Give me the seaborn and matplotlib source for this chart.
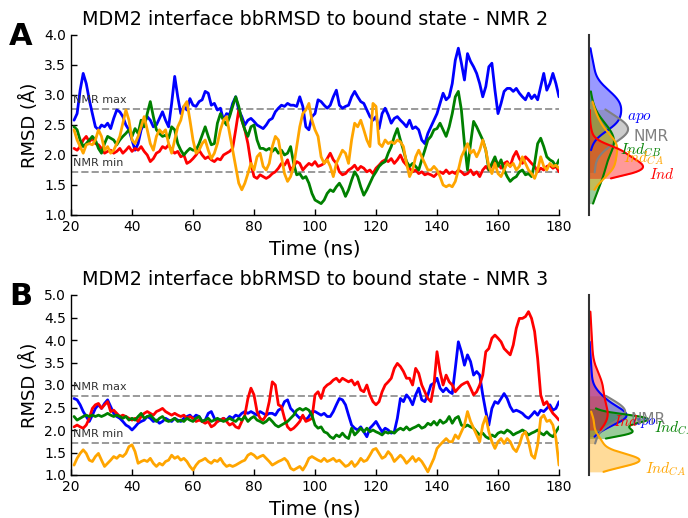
import numpy as np
import matplotlib
matplotlib.use('Agg')
import matplotlib.pyplot as plt
import seaborn as sns

# ---------------- data ----------------
time_ns = list(range(21, 181))

apo_A = [2.58,2.69,3.08,3.36,3.19,2.92,2.69,2.47,2.42,2.5,
         2.47,2.53,2.44,2.61,2.75,2.72,2.64,2.5,2.42,2.25,
         2.08,2.19,2.42,2.53,2.64,2.58,2.47,2.5,2.61,2.72,
         2.58,2.47,2.86,3.31,2.97,2.69,2.81,2.75,2.94,2.83,
         2.81,2.89,2.92,3.06,3.03,2.83,2.86,2.75,2.78,2.58,
         2.69,2.67,2.86,2.97,2.75,2.64,2.5,2.58,2.61,2.56,
         2.5,2.47,2.44,2.5,2.58,2.61,2.72,2.78,2.83,2.81,
         2.86,2.83,2.83,2.81,2.97,2.81,2.47,2.42,2.64,2.69,
         2.92,2.89,2.83,2.78,2.83,2.97,3.08,2.83,2.78,2.81,
         2.83,2.97,3.06,2.97,2.89,2.86,2.75,2.64,2.58,2.64,
         2.44,2.69,2.78,2.67,2.53,2.61,2.64,2.58,2.53,2.47,
         2.58,2.44,2.47,2.42,2.25,2.19,2.36,2.47,2.58,2.69,
         2.86,3.03,2.92,2.97,3.19,3.58,3.78,3.53,3.25,3.69,
         3.56,3.47,3.36,3.19,2.97,3.14,3.47,3.53,3.08,2.69,
         2.86,3.06,3.11,3.11,3.06,3.11,3.03,2.97,2.92,3.03,
         2.94,3.0,2.92,3.14,3.36,3.08,3.19,3.36,3.19,2.97]

ind_A = [2.11,2.08,2.14,2.25,2.31,2.22,2.28,2.19,2.17,2.11,
         2.03,2.06,2.08,2.03,2.06,2.11,2.03,2.08,2.14,2.06,
         2.11,2.08,2.14,2.06,2.0,1.89,1.94,2.03,2.06,2.14,
         2.11,2.17,2.08,2.03,2.06,1.97,2.0,1.86,1.89,1.94,
         2.0,2.08,2.0,1.94,1.97,1.92,1.89,1.94,1.92,2.0,
         2.03,2.06,2.11,2.42,2.75,2.58,2.42,2.19,1.86,1.64,
         1.61,1.67,1.64,1.61,1.64,1.69,1.72,1.78,1.86,1.83,
         1.92,1.75,1.81,1.89,1.86,1.75,1.81,1.86,1.83,1.89,
         1.81,1.83,1.86,1.94,2.03,1.92,1.86,1.72,1.67,1.69,
         1.75,1.78,1.83,1.75,1.81,1.78,1.72,1.75,1.69,1.78,
         1.83,1.89,1.92,1.89,1.94,1.86,1.92,2.0,1.89,1.83,
         1.78,1.72,1.75,1.69,1.72,1.67,1.69,1.67,1.64,1.69,
         1.72,1.69,1.75,1.69,1.72,1.69,1.75,1.72,1.67,1.69,
         1.75,1.67,1.72,1.64,1.75,1.81,1.75,1.83,1.92,1.86,
         1.78,1.86,1.89,1.81,1.97,2.06,1.94,1.86,1.97,1.92,
         1.86,1.81,1.72,1.78,1.75,1.81,1.83,1.78,1.81,1.72]

indcb_A = [2.47,2.42,2.25,2.14,2.19,2.25,2.31,2.25,2.11,2.03,
           2.19,2.31,2.28,2.25,2.17,2.25,2.31,2.36,2.42,2.31,
           2.44,2.36,2.58,2.47,2.69,2.89,2.64,2.42,2.36,2.31,
           2.33,2.28,2.47,2.42,2.19,2.08,2.0,2.06,2.11,2.08,
           2.08,2.19,2.33,2.47,2.31,2.17,2.19,2.53,2.69,2.58,
           2.5,2.64,2.81,2.97,2.81,2.58,2.42,2.31,2.47,2.5,
           2.25,2.11,2.11,2.08,2.11,2.06,2.11,2.03,2.08,2.0,
           2.03,2.14,1.86,1.67,1.69,1.61,1.64,1.53,1.36,1.25,
           1.22,1.19,1.25,1.36,1.42,1.39,1.47,1.53,1.44,1.31,
           1.42,1.58,1.72,1.64,1.47,1.33,1.42,1.53,1.64,1.72,
           1.81,1.86,1.89,2.03,2.14,2.31,2.44,2.25,2.08,1.89,
           1.81,1.86,1.81,1.75,1.92,2.08,2.25,2.31,2.42,2.44,
           2.53,2.42,2.31,2.47,2.69,2.97,3.06,2.75,2.19,1.75,
           2.19,2.56,2.47,2.36,2.25,2.08,1.75,1.86,1.97,1.81,
           1.92,1.75,1.64,1.56,1.61,1.64,1.72,1.75,1.67,1.69,
           1.64,1.86,2.19,2.28,2.14,1.97,1.92,1.89,1.81,1.92]

indca_A = [2.42,2.25,2.14,2.03,2.17,2.19,2.17,2.25,2.42,2.31,
           2.08,2.14,2.03,2.08,2.19,2.31,2.53,2.75,2.58,2.25,
           2.19,2.31,2.47,2.64,2.42,2.19,2.08,2.31,2.42,2.36,
           2.42,2.19,2.03,2.25,2.47,2.58,2.81,2.89,2.58,2.25,
           2.03,2.08,2.19,2.25,2.08,1.94,2.03,2.19,2.42,2.58,
           2.64,2.36,2.08,1.81,1.53,1.42,1.53,1.69,1.86,1.75,
           1.97,2.03,1.81,1.75,1.86,2.14,2.31,2.25,1.97,1.69,
           1.56,1.64,1.81,2.14,2.47,2.69,2.75,2.86,2.58,2.42,
           2.31,1.97,1.86,1.92,1.81,1.64,1.86,1.97,2.08,2.03,
           1.86,2.25,2.53,2.47,2.58,2.42,2.25,2.14,2.86,2.81,
           2.19,2.14,2.25,2.19,2.22,2.19,2.25,2.22,2.14,1.86,
           1.64,1.75,1.97,2.08,1.97,1.86,1.75,1.75,1.81,1.75,
           1.64,1.5,1.47,1.5,1.47,1.56,1.75,1.97,2.08,2.19,
           2.03,2.08,1.97,2.08,2.25,2.08,1.81,1.69,1.86,1.69,
           1.64,1.75,1.86,1.81,1.86,1.75,1.81,1.97,1.86,1.75,
           1.69,1.61,1.75,1.97,1.81,1.75,1.86,1.81,1.83,1.78]

apo_B = [2.70,2.67,2.56,2.41,2.30,2.19,2.33,2.48,2.56,2.48,
         2.59,2.67,2.52,2.37,2.30,2.26,2.19,2.11,2.07,2.0,
         2.07,2.15,2.19,2.22,2.30,2.26,2.19,2.22,2.15,2.19,
         2.26,2.22,2.19,2.26,2.22,2.19,2.26,2.30,2.33,2.26,
         2.33,2.30,2.19,2.22,2.37,2.41,2.26,2.19,2.22,2.26,
         2.22,2.30,2.26,2.33,2.30,2.37,2.41,2.37,2.41,2.37,
         2.33,2.41,2.37,2.33,2.37,2.37,2.33,2.44,2.48,2.63,
         2.67,2.48,2.41,2.33,2.26,2.30,2.22,2.30,2.41,2.41,
         2.37,2.33,2.37,2.30,2.30,2.41,2.56,2.70,2.67,2.56,
         2.33,2.11,2.04,2.0,2.07,1.96,1.85,2.04,2.11,2.19,
         2.07,1.96,2.04,2.0,1.93,1.96,2.26,2.70,2.63,2.78,
         2.70,2.56,2.78,2.93,2.67,2.63,2.78,3.0,3.04,3.15,
         2.93,2.85,2.93,2.85,2.81,3.37,3.96,3.74,3.44,3.67,
         3.52,3.22,3.30,3.22,2.78,2.41,2.11,2.48,2.63,2.59,
         2.70,2.81,2.70,2.52,2.41,2.44,2.41,2.37,2.30,2.26,
         2.33,2.41,2.33,2.44,2.41,2.48,2.56,2.44,2.48,2.63]

ind_B = [2.07,2.11,2.07,2.04,2.11,2.26,2.48,2.56,2.59,2.48,
         2.56,2.63,2.41,2.44,2.37,2.30,2.33,2.30,2.26,2.22,
         2.26,2.19,2.30,2.37,2.41,2.37,2.33,2.41,2.44,2.48,
         2.41,2.37,2.33,2.37,2.33,2.30,2.33,2.26,2.30,2.26,
         2.19,2.22,2.19,2.15,2.19,2.07,2.11,2.19,2.22,2.26,
         2.19,2.11,2.15,2.07,2.04,2.19,2.33,2.70,2.93,2.78,
         2.41,2.26,2.22,2.33,2.63,3.07,3.0,2.56,2.52,2.26,
         2.07,2.0,2.04,2.11,2.19,2.33,2.19,2.22,2.26,2.78,
         2.85,2.70,2.93,3.0,3.04,3.11,3.15,3.07,3.15,3.11,
         3.07,3.11,3.0,3.07,2.89,2.85,3.0,2.78,2.63,2.56,
         2.63,2.85,3.0,3.07,3.15,3.37,3.48,3.41,3.30,3.15,
         3.15,3.0,3.37,3.26,3.0,2.85,2.70,2.63,3.0,3.74,
         3.30,3.0,3.22,3.07,3.0,2.85,2.93,3.0,3.04,3.07,
         2.93,2.78,2.85,3.0,3.22,3.74,3.81,4.04,4.11,4.04,
         3.96,3.81,3.74,3.67,3.89,4.26,4.48,4.48,4.52,4.63,
         4.48,4.19,3.59,2.78,2.56,2.63,2.48,2.37,2.30,2.22]

indcb_B = [2.30,2.22,2.26,2.30,2.33,2.30,2.33,2.30,2.33,2.30,
           2.33,2.37,2.33,2.30,2.33,2.30,2.26,2.30,2.22,2.26,
           2.22,2.30,2.37,2.26,2.30,2.33,2.26,2.19,2.26,2.30,
           2.22,2.19,2.22,2.26,2.19,2.22,2.19,2.26,2.22,2.19,
           2.26,2.30,2.19,2.22,2.26,2.19,2.22,2.26,2.22,2.19,
           2.22,2.26,2.22,2.19,2.26,2.22,2.30,2.19,2.26,2.30,
           2.22,2.19,2.15,2.19,2.26,2.19,2.11,2.07,2.11,2.15,
           2.19,2.26,2.33,2.44,2.48,2.44,2.48,2.44,2.33,2.11,
           2.04,2.07,1.96,1.93,1.85,1.81,1.89,1.85,1.93,1.85,
           1.81,2.04,1.89,1.96,2.04,1.96,2.04,1.96,2.0,1.96,
           1.93,1.89,1.96,1.93,1.96,1.93,2.0,2.04,2.0,2.07,
           2.0,2.04,2.07,2.11,2.04,2.07,2.15,2.11,2.19,2.11,
           2.22,2.15,2.19,2.30,2.15,2.26,2.30,2.11,2.07,2.11,
           2.07,2.04,1.96,1.89,1.93,1.85,1.81,1.89,1.85,1.93,
           1.96,1.93,2.0,1.96,1.89,1.93,1.96,2.0,1.96,1.89,
           1.93,1.96,2.0,1.93,1.89,1.96,1.89,1.85,1.96,2.07]

indca_B = [1.22,1.37,1.48,1.56,1.48,1.33,1.30,1.41,1.48,1.33,
           1.19,1.26,1.33,1.41,1.37,1.44,1.41,1.48,1.63,1.67,
           1.52,1.26,1.30,1.33,1.30,1.37,1.26,1.19,1.26,1.22,
           1.30,1.33,1.44,1.37,1.41,1.33,1.37,1.30,1.19,1.11,
           1.22,1.30,1.33,1.37,1.30,1.26,1.33,1.30,1.37,1.26,
           1.19,1.22,1.19,1.22,1.26,1.30,1.33,1.44,1.48,1.44,
           1.37,1.41,1.44,1.37,1.30,1.22,1.26,1.30,1.33,1.37,
           1.30,1.15,1.11,1.15,1.19,1.11,1.22,1.37,1.41,1.37,
           1.33,1.30,1.37,1.30,1.33,1.37,1.30,1.33,1.26,1.19,
           1.22,1.30,1.19,1.26,1.37,1.30,1.33,1.44,1.56,1.59,
           1.48,1.37,1.41,1.52,1.44,1.30,1.37,1.44,1.37,1.26,
           1.33,1.41,1.30,1.37,1.30,1.19,1.07,1.22,1.37,1.59,
           1.67,1.74,1.81,1.74,1.74,1.89,1.81,1.96,2.11,2.41,
           2.19,2.04,1.89,1.74,2.11,2.30,1.96,1.74,1.59,1.74,
           1.81,1.70,1.81,1.74,1.59,1.52,1.67,1.89,1.96,1.74,
           1.44,1.37,1.67,2.26,2.33,2.19,2.22,2.11,1.81,1.22]

# NMR ensemble RMSD values (estimated from the grey density)
nmr_A = [1.71, 2.05, 2.18, 2.27, 2.33, 2.38, 2.41, 2.44, 2.47, 2.52, 2.58, 2.65, 2.76]
nmr_B = [1.70, 2.00, 2.15, 2.24, 2.30, 2.35, 2.39, 2.42, 2.46, 2.52, 2.60, 2.68, 2.76]
nmr_max = 2.76
nmr_min = 1.71

series_names = ['apo', 'Ind', 'Ind_CB', 'Ind_CA']
series_labels = {'apo': '$apo$', 'Ind': '$Ind$', 'Ind_CB': '$Ind_{CB}$',
                 'Ind_CA': '$Ind_{CA}$', 'NMR': 'NMR'}
colors = {'apo': 'blue', 'Ind': 'red', 'Ind_CB': 'green', 'Ind_CA': 'orange', 'NMR': 'gray'}

panels = [
    dict(letter='A', title='MDM2 interface bbRMSD to bound state - NMR 2',
         data={'apo': apo_A, 'Ind': ind_A, 'Ind_CB': indcb_A, 'Ind_CA': indca_A},
         nmr=nmr_A, ylim=(1.0, 4.0), yticks=[1.0, 1.5, 2.0, 2.5, 3.0, 3.5, 4.0],
         top_px=35, ref='Ind', ref_px=54),
    dict(letter='B', title='MDM2 interface bbRMSD to bound state - NMR 3',
         data={'apo': apo_B, 'Ind': ind_B, 'Ind_CB': indcb_B, 'Ind_CA': indca_B},
         nmr=nmr_B, ylim=(1.0, 5.0), yticks=[1.0, 1.5, 2.0, 2.5, 3.0, 3.5, 4.0, 4.5, 5.0],
         top_px=295, ref='Ind_CB', ref_px=59),
]

# ---------------- style ----------------
sns.set_style('ticks')
plt.rcParams['font.family'] = ['DejaVu Sans']
plt.rcParams['mathtext.fontset'] = 'cm'
plt.rcParams['xtick.direction'] = 'in'
plt.rcParams['ytick.direction'] = 'in'
for k in ('text.color', 'axes.labelcolor', 'xtick.color', 'ytick.color', 'axes.edgecolor'):
    plt.rcParams[k] = 'black'

W, H = 688, 518
fig = plt.figure(figsize=(W / 100, H / 100), dpi=100)

for p in panels:
    top = p['top_px']
    ax = fig.add_axes([71 / W, 1 - (top + 180) / H, 488 / W, 180 / H])
    axd = fig.add_axes([589 / W, 1 - (top + 180) / H, 99 / W, 180 / H])

    for name in series_names:
        sns.lineplot(x=time_ns, y=p['data'][name], color=colors[name], lw=2,
                     ax=ax, legend=False)
    for yv in (nmr_max, nmr_min):
        ax.axhline(yv, color='gray', ls='--', lw=1.4, alpha=0.8, zorder=1)
    ax.annotate('NMR max', xy=(20.5, nmr_max), xytext=(0, 3), textcoords='offset points',
                fontsize=8, color='#333333', va='bottom', ha='left')
    ax.annotate('NMR min', xy=(20.5, nmr_min), xytext=(0, 3), textcoords='offset points',
                fontsize=8, color='#333333', va='bottom', ha='left')

    ax.set_xlim(20, 180)
    ax.set_ylim(*p['ylim'])
    ax.set_xticks([20, 40, 60, 80, 100, 120, 140, 160, 180])
    ax.set_yticks(p['yticks'])
    ax.set_yticklabels([f'{v:.1f}' for v in p['yticks']])
    ax.tick_params(labelsize=10, length=4, width=1, color='k')
    for s in ('left', 'bottom'):
        ax.spines[s].set_color('k')
        ax.spines[s].set_linewidth(1)
    sns.despine(ax=ax)
    ax.set_xlabel('Time (ns)', fontsize=14)
    ax.set_ylabel('RMSD (Å)', fontsize=13)
    ax.set_title(p['title'], fontsize=13.8, pad=7)
    fig.text(0.013, 1 - (top - 13) / H, p['letter'], fontsize=22, fontweight='bold',
             va='top', ha='left')

    # densities
    peaks = {}
    for name, vals in [('apo', p['data']['apo']), ('NMR', p['nmr']),
                       ('Ind_CB', p['data']['Ind_CB']), ('Ind_CA', p['data']['Ind_CA']),
                       ('Ind', p['data']['Ind'])]:
        bw = 1.0 if name == 'NMR' else 1.25
        sns.kdeplot(y=vals, ax=axd, color=colors[name], bw_adjust=bw, cut=0, lw=1.5)
        line = axd.lines[-1]
        xs = np.asarray(line.get_xdata())
        ys = np.asarray(line.get_ydata())
        axd.fill_betweenx(ys, 0, xs, color=colors[name], alpha=0.4, lw=0)
        i = int(np.argmax(xs))
        peaks[name] = (xs[i], ys[i])
    xmax = peaks[p['ref']][0] * 99 / p['ref_px']
    axd.set_xlim(0, xmax)
    axd.set_ylim(*p['ylim'])
    for name, (px, py) in peaks.items():
        axd.annotate(series_labels[name], xy=(px, py), xytext=(4, 0),
                     textcoords='offset points', color=colors[name], fontsize=11,
                     va='top', ha='left', annotation_clip=False)
    axd.set_xticks([])
    axd.set_yticks([])
    axd.set_xlabel('')
    axd.set_ylabel('')
    for s in ('top', 'right', 'bottom'):
        axd.spines[s].set_visible(False)
    axd.spines['left'].set_color('#333333')
    axd.spines['left'].set_linewidth(1.5)
    axd.patch.set_alpha(0)

fig.savefig('out.png', dpi=100)
